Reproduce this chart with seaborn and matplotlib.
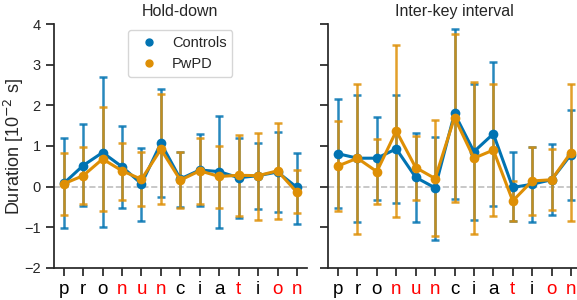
import matplotlib
matplotlib.use("Agg")
import matplotlib.pyplot as plt
from matplotlib.lines import Line2D
import seaborn as sns
import numpy as np
import pandas as pd

# letters of the typed word, red ones mark the repeated syllables
letters = list("pronunciation")
red_letters = [3, 4, 5, 9, 11, 12]
groups = ["Controls", "PwPD"]

# hold-down durations [10^-2 s]: mean, lower and upper end of error bar
hold_ctrl_mean = [0.08, 0.52, 0.84, 0.49, 0.07, 1.07, 0.19, 0.41, 0.37, 0.22, 0.27, 0.36, -0.02]
hold_ctrl_lo = [-1.02, -0.48, -1.00, -0.52, -0.84, -0.25, -0.50, -0.48, -1.02, -0.78, -0.56, -0.63, -0.91]
hold_ctrl_hi = [1.19, 1.53, 2.69, 1.48, 0.94, 2.39, 0.86, 1.29, 1.74, 1.20, 1.08, 1.34, 0.84]

hold_pd_mean = [0.07, 0.27, 0.68, 0.39, 0.18, 0.92, 0.16, 0.39, 0.25, 0.28, 0.27, 0.39, -0.14]
hold_pd_lo = [-0.70, -0.42, -0.61, -0.33, -0.48, -0.42, -0.52, -0.42, -0.53, -0.72, -0.82, -0.79, -0.66]
hold_pd_hi = [0.84, 0.97, 1.97, 1.07, 0.86, 2.28, 0.85, 1.20, 1.00, 1.27, 1.33, 1.56, 0.40]

# inter-key intervals [10^-2 s]
iki_ctrl_mean = [0.81, 0.70, 0.70, 0.93, 0.23, -0.03, 1.80, 0.86, 1.30, -0.02, 0.06, 0.17, 0.79]
iki_ctrl_lo = [-0.52, -0.86, -0.33, -0.39, -0.86, -1.30, -0.30, -0.82, -0.47, -0.84, -0.88, -0.70, -0.34]
iki_ctrl_hi = [2.15, 2.25, 1.72, 2.26, 1.33, 1.23, 3.87, 2.52, 3.06, 0.85, 0.98, 1.06, 1.89]

iki_pd_mean = [0.51, 0.70, 0.37, 1.37, 0.47, 0.20, 1.70, 0.70, 0.90, -0.35, 0.14, 0.17, 0.84]
iki_pd_lo = [-0.60, -1.16, -0.43, -0.74, -0.34, -1.21, -0.37, -1.16, -0.73, -0.84, -0.70, -0.57, -0.84]
iki_pd_hi = [1.62, 2.53, 1.16, 3.48, 1.25, 1.64, 3.75, 2.57, 2.52, 0.15, 0.98, 0.93, 2.53]

sns.set_theme(style="ticks")
plt.rcParams["font.family"] = ["Liberation Sans", "DejaVu Sans"]
palette = sns.color_palette("colorblind", 2)


def make_df(ctrl, pd_):
    rows = []
    for g, (m, lo, hi) in zip(groups, [ctrl, pd_]):
        for i in range(len(letters)):
            rows.append({"pos": i, "group": g, "mean": m[i], "lo": lo[i], "hi": hi[i]})
    return pd.DataFrame(rows)


panels = [
    ("Hold-down", make_df((hold_ctrl_mean, hold_ctrl_lo, hold_ctrl_hi),
                          (hold_pd_mean, hold_pd_lo, hold_pd_hi))),
    ("Inter-key interval", make_df((iki_ctrl_mean, iki_ctrl_lo, iki_ctrl_hi),
                                   (iki_pd_mean, iki_pd_lo, iki_pd_hi))),
]

fig = plt.figure(figsize=(5.77, 3.0), dpi=100)
ax1 = fig.add_axes([0.0936, 0.1067, 0.4379, 0.8133])
ax2 = fig.add_axes([0.569, 0.1067, 0.4374, 0.8133], sharey=ax1)

for ax, (title, df) in zip([ax1, ax2], panels):
    ax.axhline(0, color="0.75", ls="--", lw=1.2, zorder=0)
    for g, c in zip(groups, palette):
        sub = df[df.group == g]
        ax.errorbar(sub["pos"], sub["mean"],
                    yerr=[sub["mean"] - sub["lo"], sub["hi"] - sub["mean"]],
                    fmt="none", ecolor=c, elinewidth=1.8, capsize=3, capthick=1.8,
                    alpha=0.85, zorder=2)
    sns.lineplot(data=df, x="pos", y="mean", hue="group", palette=palette,
                 marker="o", markersize=7, markeredgewidth=0, linewidth=2.2,
                 legend=False, ax=ax, zorder=3)
    ax.set_title(title, fontsize=11.5, pad=6)
    ax.set_xlim(-0.5, 12.5)
    ax.set_ylim(-2, 4)
    ax.set_xticks(range(len(letters)))
    ax.set_xticklabels(letters, fontsize=13.5)
    for i, t in enumerate(ax.get_xticklabels()):
        t.set_color("red" if i in red_letters else "black")
    ax.set_xlabel("")
    ax.tick_params(axis="y", labelsize=10.5)
    sns.despine(ax=ax)

ax1.set_ylabel("Duration [10$^{-2}$ s]", fontsize=13)
ax1.yaxis.set_label_coords(-0.112, 0.5)
ax2.set_ylabel("")
ax2.tick_params(axis="y", labelleft=False)

handles = [Line2D([], [], ls="none", marker="o", markersize=5, color=c) for c in palette]
ax1.legend(handles, groups, loc="upper center", bbox_to_anchor=(0.5, 0.975),
           borderaxespad=0, fontsize=10.5, handletextpad=0.6, frameon=True)

fig.savefig("out.png", dpi=100)
